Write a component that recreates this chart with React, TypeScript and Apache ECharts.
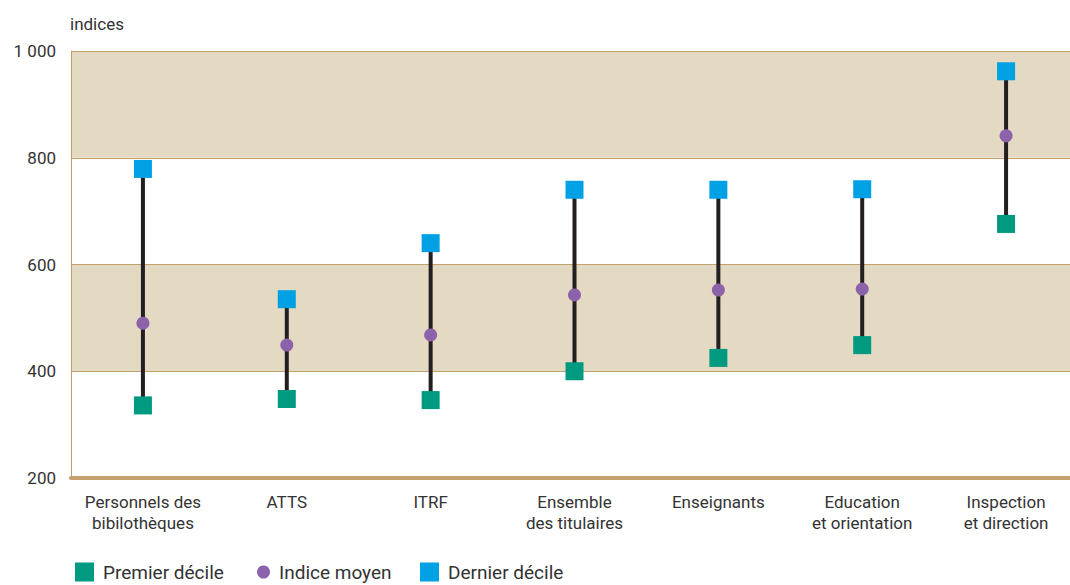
import React, { useEffect, useRef } from "react";
import * as echarts from "echarts";

const categories = [
  "Personnels des\nbibilothèques",
  "ATTS",
  "ITRF",
  "Ensemble\ndes titulaires",
  "Enseignants",
  "Education\net orientation",
  "Inspection\net direction",
];
const premierDecile = [336, 348, 346, 400, 425, 449, 676];
const indiceMoyen = [490, 449, 468, 543, 552, 554, 841];
const dernierDecile = [779, 535, 640, 740, 740, 741, 962];
const yTicks = [200, 400, 600, 800, 1000];

const FONT = "Roboto, 'Liberation Sans Narrow', sans-serif";
const GREEN = "#009a80";
const PURPLE = "#8c62aa";
const BLUE = "#00a1e4";
const TAN = "#c4a06e";

export default function App() {
  const ref = useRef<HTMLDivElement>(null);
  useEffect(() => {
    if (!ref.current) return;
    const chart = echarts.init(ref.current, undefined, { renderer: "svg" });
    const ranges = categories.map((_, i) => [i, premierDecile[i], dernierDecile[i]]);
    const legendText = { fontSize: 19, lineHeight: 20, color: "#333", fontFamily: FONT, padding: [0, 0, 0, 4] };
    chart.setOption({
      animation: false,
      textStyle: { fontFamily: FONT },
      grid: { left: 71, top: 51, width: 1007, bottom: 107, containLabel: false },
      legend: [
        {
          data: [{ name: "Premier décile", icon: "rect" }],
          left: 73,
          top: 560,
          padding: 2,
          itemWidth: 19,
          itemHeight: 19,
          textStyle: legendText,
        },
        {
          data: [{ name: "Indice moyen", icon: "circle" }],
          left: 255,
          top: 560,
          padding: 2,
          itemWidth: 13,
          itemHeight: 13,
          textStyle: legendText,
        },
        {
          data: [{ name: "Dernier décile", icon: "rect" }],
          left: 418,
          top: 560,
          padding: 2,
          itemWidth: 19,
          itemHeight: 19,
          textStyle: legendText,
        },
      ],
      xAxis: {
        type: "category",
        data: categories,
        boundaryGap: true,
        axisLine: { show: true, lineStyle: { color: TAN, width: 4 } },
        axisTick: { show: false },
        axisLabel: {
          color: "#333",
          fontSize: 17,
          lineHeight: 21,
          margin: 13,
          fontFamily: FONT,
          interval: 0,
        },
      },
      yAxis: {
        type: "value",
        min: 200,
        max: 1000,
        interval: 200,
        name: "indices",
        nameLocation: "end",
        nameGap: 19,
        nameTextStyle: { align: "left", color: "#333", fontSize: 17, fontFamily: FONT, padding: [0, 0, 0, -1] },
        axisLine: { show: true, lineStyle: { color: TAN, width: 1 } },
        axisTick: { show: false },
        axisLabel: {
          color: "#333",
          fontSize: 17,
          margin: 15,
          fontFamily: FONT,
          formatter: (v: number) => (yTicks.includes(v) ? (v >= 1000 ? "1 000" : String(v)) : ""),
        },
        splitLine: { show: true, lineStyle: { color: TAN, width: 1 } },
        splitArea: {
          show: true,
          areaStyle: { color: ["rgba(255,255,255,0)", "#e4d9c3"] },
        },
      },
      series: [
        {
          type: "custom",
          name: "range",
          z: 1,
          data: ranges,
          renderItem: (_params: any, api: any) => {
            const lo = api.coord([api.value(0), api.value(1)]);
            const hi = api.coord([api.value(0), api.value(2)]);
            return {
              type: "line",
              shape: { x1: lo[0], y1: lo[1], x2: hi[0], y2: hi[1] },
              style: { stroke: "#231f20", lineWidth: 4 },
            };
          },
          silent: true,
        },
        {
          type: "scatter",
          name: "Premier décile",
          symbol: "rect",
          symbolSize: 18,
          z: 3,
          itemStyle: { color: GREEN, opacity: 1 },
          data: premierDecile,
        },
        {
          type: "scatter",
          name: "Indice moyen",
          symbol: "circle",
          symbolSize: 13,
          z: 3,
          itemStyle: { color: PURPLE, opacity: 1 },
          data: indiceMoyen,
        },
        {
          type: "scatter",
          name: "Dernier décile",
          symbol: "rect",
          symbolSize: 18,
          z: 3,
          itemStyle: { color: BLUE, opacity: 1 },
          data: dernierDecile,
        },
      ],
    });
    return () => chart.dispose();
  }, []);
  return (
    <div
      style={{ position: "absolute", left: 0, top: 0, width: 1070, height: 585, overflow: "hidden", background: "#fff" }}
    >
      <div ref={ref} style={{ width: 1085, height: 585 }} />
    </div>
  );
}
